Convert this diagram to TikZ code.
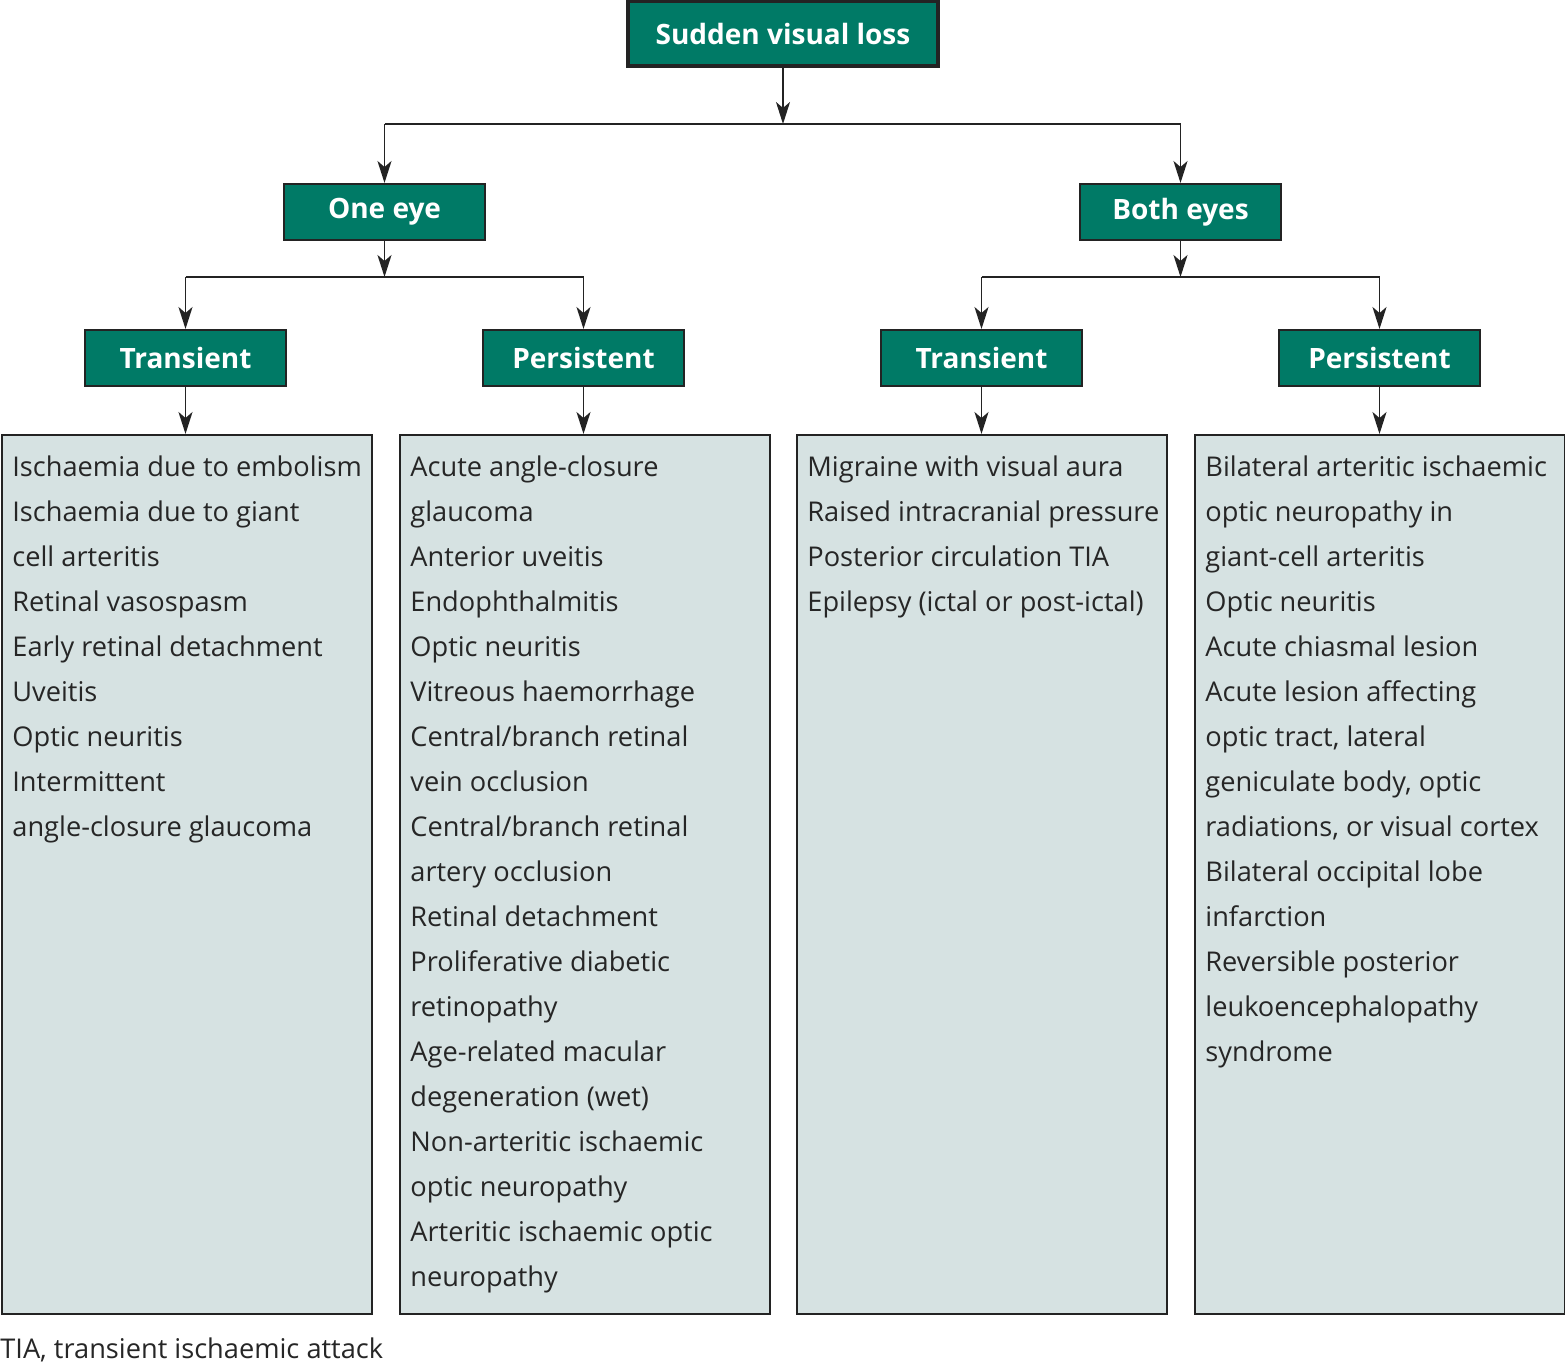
\documentclass[tikz,border=0pt]{standalone}
\usepackage{fontspec}
\setmainfont{Open Sans}
\usepackage{tikz}
\usetikzlibrary{positioning, arrows.meta}
\definecolor{headgreen}{RGB}{0,122,102}
\definecolor{listfill}{RGB}{214,226,226}
\definecolor{linegray}{RGB}{35,35,35}

\begin{document}
\begin{tikzpicture}[x=0.5pt, y=-0.5pt,
    head/.style={draw=linegray, fill=headgreen, line width=1pt, minimum width=100.5pt,
                 minimum height=28pt, inner sep=0pt, text=white,
                 font=\fontsize{14}{16}\selectfont\bfseries},
    listbox/.style={draw=linegray, fill=listfill, line width=0.9pt, minimum width=185pt,
                    minimum height=439.5pt, inner sep=0pt, anchor=north west},
    listtext/.style={anchor=north west, align=left, inner sep=0pt,
                     font=\fontsize{13.6}{22.5}\selectfont, text=black!85},
    arr/.style={-{Stealth[length=11pt, width=7pt, inset=3pt]}, line width=0.9pt, draw=linegray},
    link/.style={line width=0.9pt, draw=linegray}
  ]
    \useasboundingbox (0,0) rectangle (1565,1367);
    % Root
    \node[head, line width=2pt, minimum width=155pt, minimum height=32.5pt] (root) at (783,33.5) {Sudden visual loss};
    \node[head] (one) at (384.5,212) {One eye};
    \node[head] (both) at (1180.5,212) {Both eyes};
    % Second level
    \node[head] (onetr) at (185.5,358) {Transient};
    \node[head] (onepe) at (583.5,358) {Persistent};
    \node[head] (bothtr) at (981.5,358) {Transient};
    \node[head] (bothpe) at (1379.5,358) {Persistent};
    % Junctions
    \coordinate (jroot) at (783,124);
    \coordinate (jone) at (384.5,277);
    \coordinate (jboth) at (1180.5,277);
    % Lists
    \node[listbox] (l1) at (1,434) {};
    \node[listbox] (l2) at (399,434) {};
    \node[listbox] (l3) at (796,434) {};
    \node[listbox] (l4) at (1194,434) {};
    \node[listtext] (t1) at ([xshift=5.5pt, yshift=-10.5pt]l1.north west)
      {Ischaemia due to embolism\\Ischaemia due to giant\\cell arteritis\\Retinal vasospasm\\
       Early retinal detachment\\Uveitis\\Optic neuritis\\Intermittent\\angle-closure glaucoma};
    \node[listtext] (t2) at ([xshift=5.5pt, yshift=-10.5pt]l2.north west)
      {Acute angle-closure\\glaucoma\\Anterior uveitis\\Endophthalmitis\\Optic neuritis\\
       Vitreous haemorrhage\\Central/branch retinal\\vein occlusion\\Central/branch retinal\\
       artery occlusion\\Retinal detachment\\Proliferative diabetic\\retinopathy\\
       Age-related macular\\degeneration (wet)\\Non-arteritic ischaemic\\optic neuropathy\\
       Arteritic ischaemic optic\\neuropathy};
    \node[listtext] (t3) at ([xshift=5.5pt, yshift=-10.5pt]l3.north west)
      {Migraine with visual aura\\Raised intracranial pressure\\Posterior circulation TIA\\
       Epilepsy (ictal or post-ictal)};
    \node[listtext] (t4) at ([xshift=5.5pt, yshift=-10.5pt]l4.north west)
      {Bilateral arteritic ischaemic\\optic neuropathy in\\giant-cell arteritis\\Optic neuritis\\
       Acute chiasmal lesion\\Acute lesion affecting\\optic tract, lateral\\
       geniculate body, optic\\radiations, or visual cortex\\Bilateral occipital lobe\\
       infarction\\Reversible posterior\\leukoencephalopathy\\syndrome};
    % Footnote
    \node[anchor=west, inner sep=0pt, font=\fontsize{13.6}{15}\selectfont, text=black!85] (note) at (0,1350)
      {TIA, transient ischaemic attack};
    % Arrows
    \draw[arr] (root) -- (jroot);
    \draw[link] (jroot -| one) -- (jroot -| both);
    \draw[arr] (jroot -| one) -- (one);
    \draw[arr] (jroot -| both) -- (both);
    \draw[arr] (one) -- (jone);
    \draw[link] (jone -| onetr) -- (jone -| onepe);
    \draw[arr] (jone -| onetr) -- (onetr);
    \draw[arr] (jone -| onepe) -- (onepe);
    \draw[arr] (both) -- (jboth);
    \draw[link] (jboth -| bothtr) -- (jboth -| bothpe);
    \draw[arr] (jboth -| bothtr) -- (bothtr);
    \draw[arr] (jboth -| bothpe) -- (bothpe);
    \draw[arr] (onetr) -- (onetr |- l1.north);
    \draw[arr] (onepe) -- (onepe |- l2.north);
    \draw[arr] (bothtr) -- (bothtr |- l3.north);
    \draw[arr] (bothpe) -- (bothpe |- l4.north);
  \end{tikzpicture}
\end{document}
